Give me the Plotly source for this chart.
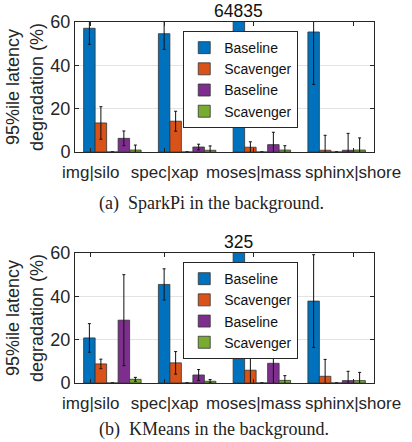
import plotly.graph_objects as go

# ---------------- data ----------------
groups = [1, 2, 3, 4]
tick_labels = ["img|silo", "spec|xap", "moses|mass", "sphinx|shore"]
legend_names = ["Baseline", "Scavenger", "Baseline", "Scavenger"]

# (a) SparkPi in the background
a_base1 = [57.1, 54.6, 64835, 55.4]
a_base1_err = [7.4, 7.2, 0, 24.2]
a_scav1 = [13.4, 14.2, 2.2, 0.8]
a_scav1_err = [7.5, 4.6, 2.5, 6.9]
a_base2 = [6.3, 2.3, 3.4, 0.8]
a_base2_err = [3.4, 1.3, 5.7, 7.8]
a_scav2 = [0.9, 0.8, 0.9, 0.9]
a_scav2_err = [2.3, 2.0, 2.0, 5.6]
a_label = "64835"

# (b) KMeans in the background
b_base1 = [20.8, 45.5, 325, 37.8]
b_base1_err = [6.6, 7.2, 0, 21.4]
b_scav1 = [8.8, 9.3, 5.9, 3.1]
b_scav1_err = [2.2, 5.2, 7.7, 7.8]
b_base2 = [29.0, 3.7, 9.1, 1.1]
b_base2_err = [21.0, 2.5, 13.7, 4.3]
b_scav2 = [1.7, 0.8, 1.2, 1.1]
b_scav2_err = [0.9, 0.8, 2.2, 3.8]
b_label = "325"

spacer = [0, 0, 0, 0]

captions = ["(a)\u00a0 SparkPi in the background.", "(b)\u00a0 KMeans in the background."]

# ---------------- styling ----------------
colors = ["#0072BD", "#D95319", "#EDB120", "#7E2F8E", "#77AC30"]
TXT = "#262626"
FONT = "Liberation Sans, Arial, sans-serif"

fig = go.Figure()


def add_panel(series, errs, xa, ya, legend):
    names = [legend_names[0], legend_names[1], "", legend_names[2], legend_names[3]]
    for i, (vals, err) in enumerate(zip(series, errs)):
        fig.add_trace(go.Bar(
            x=groups, y=vals, name=names[i],
            xaxis=xa, yaxis=ya, legend=legend,
            showlegend=(i != 2),
            offsetgroup=str(i),
            marker=dict(color=colors[i], line=dict(color="#333333", width=0.8)),
            error_y=dict(type="data", array=err, color="#111111", thickness=1, width=1.5, visible=True),
        ))


add_panel([a_base1, a_scav1, spacer, a_base2, a_scav2],
          [a_base1_err, a_scav1_err, spacer, a_base2_err, a_scav2_err], "x", "y", "legend")
add_panel([b_base1, b_scav1, spacer, b_base2, b_scav2],
          [b_base1_err, b_scav1_err, spacer, b_base2_err, b_scav2_err], "x2", "y2", "legend2")

group_width = 0.769
bar_w = group_width / 5
blue_x = groups[2] - 2 * bar_w

xaxis_common = dict(
    range=[0.5, 4.5], tickmode="array",
    tickvals=[0.71, 1.70, 2.89, 4.22], ticktext=tick_labels, tickangle=0,
    ticks="inside", ticklen=4, tickcolor=TXT,
    showline=True, linecolor=TXT, linewidth=1, mirror="ticks",
    showgrid=False, zeroline=False, ticklabelstandoff=5,
    tickfont=dict(family=FONT, size=17, color=TXT),
)
yaxis_common = dict(
    range=[0, 60], tickvals=[0, 20, 40, 60],
    ticks="inside", ticklen=4, tickcolor=TXT,
    showline=True, linecolor=TXT, linewidth=1, mirror="ticks",
    showgrid=True, gridcolor="#e3e3e3", gridwidth=1, zeroline=False,
    tickfont=dict(family=FONT, size=18, color=TXT),
    title=dict(text="95%ile latency<br>degradation (%)", standoff=2,
               font=dict(family=FONT, size=18, color=TXT)),
)

legend_common = dict(
    bgcolor="white", bordercolor=TXT, borderwidth=1,
    font=dict(family=FONT, size=14, color="#111111"),
    tracegroupgap=0, itemwidth=30, xanchor="left", yanchor="top",
)

fig.update_layout(
    width=412, height=442,
    margin=dict(l=71, r=28, t=22, b=59),
    paper_bgcolor="white", plot_bgcolor="white",
    barmode="group", bargap=1 - group_width, bargroupgap=0,
    xaxis=dict(domain=[0, 1], anchor="y", **xaxis_common),
    yaxis=dict(domain=[0.6399, 1.0], anchor="x", **yaxis_common),
    xaxis2=dict(domain=[0, 1], anchor="y2", **xaxis_common),
    yaxis2=dict(domain=[0, 0.3601], anchor="x2", **yaxis_common),
    legend=dict(x=0.362, y=0.975, **legend_common),
    legend2=dict(x=0.362, y=0.335, **legend_common),
    showlegend=True,
    annotations=[
        dict(text=a_label, x=blue_x, y=60, xref="x", yref="y", showarrow=False,
             yanchor="bottom", xanchor="center", borderpad=0,
             font=dict(family=FONT, size=17.5, color="#111111")),
        dict(text=b_label, x=blue_x, y=60, xref="x2", yref="y2", showarrow=False,
             yanchor="bottom", xanchor="center", borderpad=0,
             font=dict(family=FONT, size=17.5, color="#111111")),
        dict(text=captions[0], x=0.0735, y=0.4986, xref="paper", yref="paper",
             showarrow=False, xanchor="left", yanchor="middle",
             font=dict(family="Liberation Serif, Times New Roman, serif", size=18, color="#222222")),
        dict(text=captions[1], x=0.0735, y=-0.130, xref="paper", yref="paper",
             showarrow=False, xanchor="left", yanchor="middle",
             font=dict(family="Liberation Serif, Times New Roman, serif", size=18, color="#222222")),
    ],
)

fig.write_html("out.html", config={"displayModeBar": False},
               post_script="document.body.style.margin='0';document.body.style.padding='0';")
